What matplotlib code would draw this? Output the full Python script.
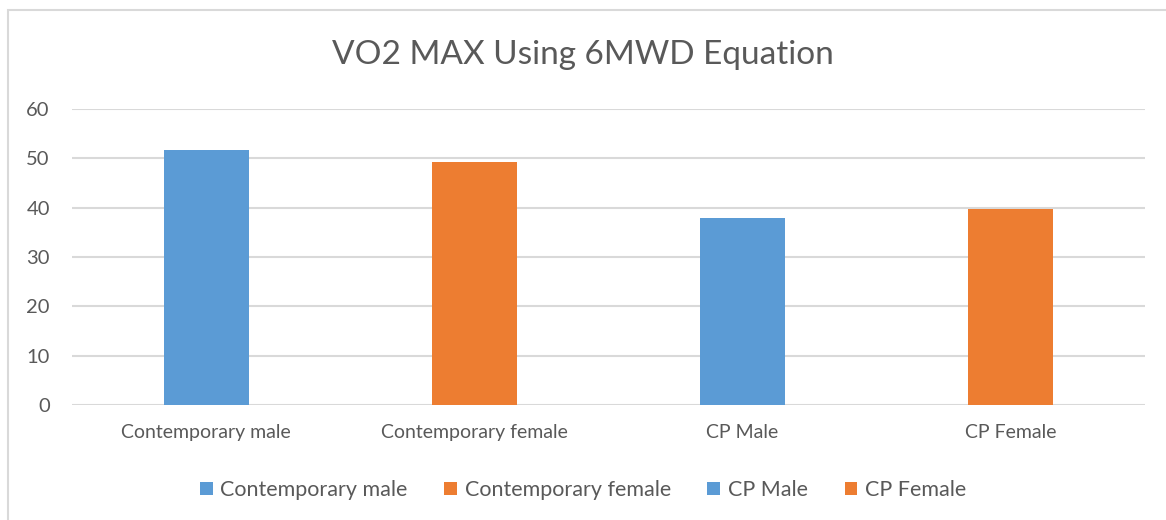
import matplotlib.pyplot as plt
from matplotlib.patches import Rectangle

# VO2 max per group
groups = ['Contemporary male', 'Contemporary female', 'CP Male', 'CP Female']
vo2 = [51.6, 49.3, 38.0, 39.8]
colors = ['#5B9BD5', '#ED7D31', '#5B9BD5', '#ED7D31']
yticks = [0, 10, 20, 30, 40, 50, 60]

plt.rcParams['font.family'] = ['Lato', 'DejaVu Sans']
txt = '#595959'

fig = plt.figure(figsize=(11.66, 5.2), dpi=100)

# outer chart border (runs off the right and bottom of the crop)
fig.patches.append(Rectangle((8 / 1166, -0.05), 1.2, 1 - 10 / 520 + 0.05,
                             transform=fig.transFigure, fill=False,
                             edgecolor='#D9D9D9', linewidth=1.5))

ax = fig.add_axes([72 / 1166, 1 - 405 / 520, (1145 - 72) / 1166, (405 - 109) / 520])

x = range(len(groups))
for i in x:
    ax.bar(i, vo2[i], width=0.317, color=colors[i], label=groups[i], zorder=3)

ax.set_xlim(-0.5, len(groups) - 0.5)
ax.set_ylim(0, 60)
ax.set_yticks(yticks)
ax.set_xticks(list(x))
ax.set_xticklabels(groups)
ax.grid(axis='y', color='#D9D9D9', linewidth=1.5, zorder=0)
for s in ax.spines.values():
    s.set_visible(False)
ax.tick_params(length=0, labelsize=14, labelcolor=txt)
ax.tick_params(axis='y', pad=16, labelsize=14.5)
ax.tick_params(axis='x', pad=14)

fig.text(0.5, 1 - 55 / 520, 'VO2 MAX Using 6MWD Equation', ha='center', va='center',
         fontsize=24, color=txt)

fig.legend(loc='center', bbox_to_anchor=(0.5, 1 - 490 / 520), ncol=4, frameon=False,
           fontsize=15.5, labelcolor=txt, handlelength=0.6, handleheight=0.6,
           handletextpad=0.35, columnspacing=1.7)

fig.savefig('out.png', dpi=100)
